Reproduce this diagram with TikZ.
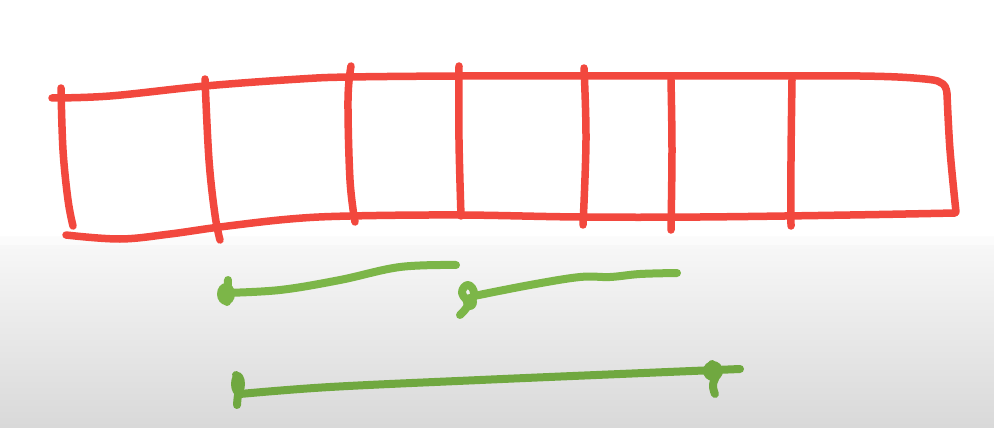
\documentclass[tikz,border=0pt]{standalone}
\usetikzlibrary{shadings}
\definecolor{penred}{RGB}{242,72,62}
\definecolor{pengreen}{RGB}{124,182,72}
\definecolor{pengreendk}{RGB}{112,168,64}
\tikzset{
  redpen/.style={draw=penred, line width=7.5pt, line cap=round, line join=round},
  greenpen/.style={draw=pengreen, line width=8pt, line cap=round, line join=round},
  greenpendk/.style={draw=pengreendk, line width=8pt, line cap=round, line join=round},
  blob/.style={fill=pengreen},
  blobdk/.style={fill=pengreendk},
}
\begin{document}
\begin{tikzpicture}[x=1pt,y=-1pt]
\useasboundingbox (0,0) rectangle (994,428);
% background
\fill[white] (0,0) rectangle (994,240);
\shade[top color=gray!5, bottom color=gray!30] (0,236) rectangle (994,428);
\shade[top color=white, bottom color=white, middle color=white, opacity=0.5] (0,228) rectangle (994,244);

% outer frame of the array
\draw[redpen] plot[smooth,tension=0.6] coordinates {(52,98) (110,96) (205,86) (300,79) (350,77) (460,76) (580,76) (700,76) (860,76) (925,79) (943,84) (947,94)};
\draw[redpen] plot[smooth,tension=0.6] coordinates {(66,235) (120,239) (170,234) (220,227) (290,219) (350,216) (460,215) (580,217) (700,217) (850,215) (955,213)};
\draw[redpen] plot[smooth,tension=0.6] coordinates {(61,88) (63,150) (68,200) (73,226)};
\draw[redpen] plot[smooth,tension=0.6] coordinates {(947,94) (950,150) (956,212)};

% dividers
\draw[redpen] plot[smooth,tension=0.6] coordinates {(205,79) (209,160) (215,215) (220,240)};
\draw[redpen] plot[smooth,tension=0.6] coordinates {(351,66) (348,100) (350,180) (355,222)};
\draw[redpen] plot[smooth,tension=0.6] coordinates {(459,66) (459,140) (461,216)};
\draw[redpen] plot[smooth,tension=0.6] coordinates {(584,68) (586,140) (583,225)};
\draw[redpen] plot[smooth,tension=0.6] coordinates {(671,80) (672,150) (671,230)};
\draw[redpen] plot[smooth,tension=0.6] coordinates {(792,80) (791,160) (791,226)};

% green segment 1
\draw[greenpen] plot[smooth,tension=0.6] coordinates {(224,293) (280,290) (340,280) (400,267) (456,265)};
\draw[greenpen] (228,280) -- (227,302);
\path[blob] (226,294) ellipse [x radius=9pt, y radius=11pt];

% green segment 2
\draw[greenpen] plot[smooth,tension=0.6] coordinates {(474,296) (530,285) (580,277) (610,277) (640,274) (677,273)};
\draw[greenpen] plot[smooth,tension=0.8] coordinates {(460,315) (467,307) (474,294) (468,285) (462,293) (470,303)};
\path[blob] (470,302) ellipse [x radius=7pt, y radius=8pt];

% green segment 3
\draw[greenpendk] plot[smooth,tension=0.6] coordinates {(240,394) (330,387) (480,380) (620,374) (740,369)};
\draw[greenpendk] plot[smooth,tension=0.8] coordinates {(236,375) (240,385) (238,395) (237,405)};
\path[blobdk] (238,384) ellipse [x radius=7pt, y radius=12pt];
\draw[greenpendk] plot[smooth,tension=0.8] coordinates {(712,364) (716,374) (713,385) (715,394)};
\path[blobdk] (713,371) ellipse [x radius=10pt, y radius=10pt];
\end{tikzpicture}
\end{document}
